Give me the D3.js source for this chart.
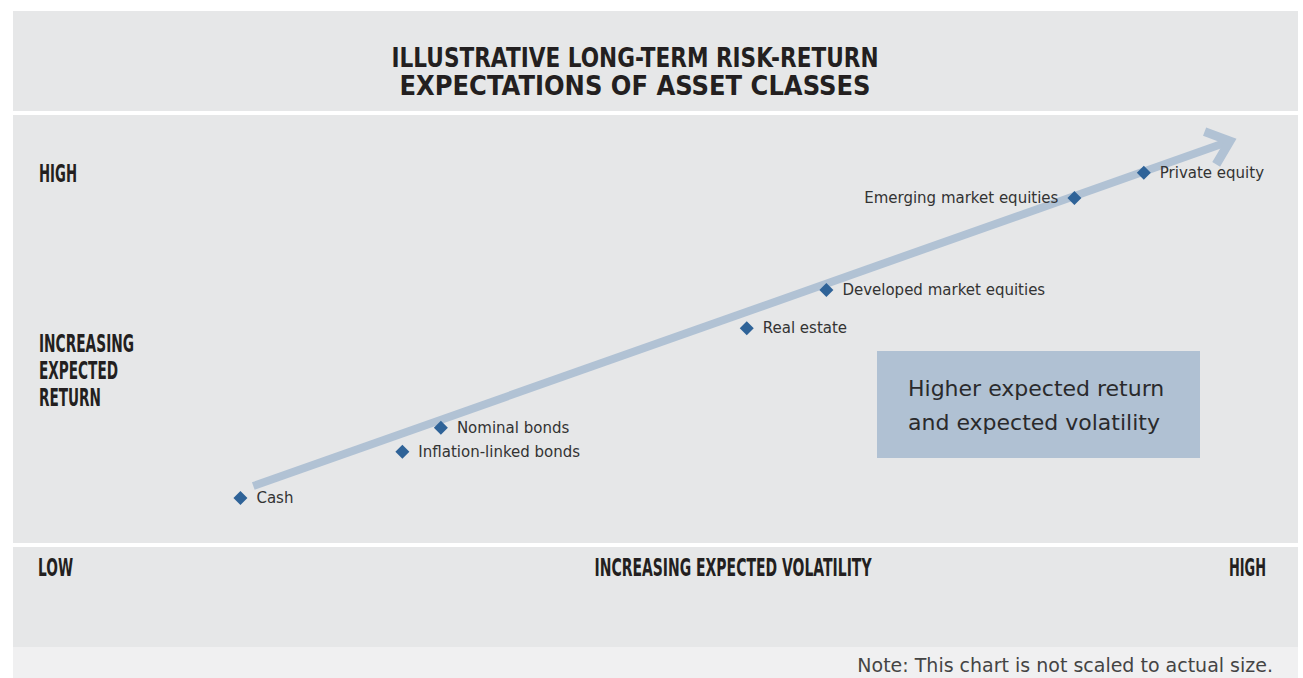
<!DOCTYPE html>
<html><head><meta charset="utf-8">
<script src="https://cdn.jsdelivr.net/npm/d3@7"></script>
<style>
html,body{margin:0;padding:0;background:#fff;}
svg{display:block;}
</style></head>
<body>
<svg id="chart" width="1303" height="678"></svg>
<script>
// ---- data ----
const titleLines = ["ILLUSTRATIVE LONG-TERM RISK-RETURN", "EXPECTATIONS OF ASSET CLASSES"];
const assets = ["Cash", "Inflation-linked bonds", "Nominal bonds", "Real estate", "Developed market equities", "Emerging market equities", "Private equity"];
const volatility = [17.7, 30.3, 33.3, 57.1, 63.3, 82.6, 88.0];
const expectedReturn = [10.5, 21.3, 26.9, 50.2, 59.1, 80.6, 86.5];
const labelSide = ["right", "right", "right", "right", "right", "left", "right"];
const arrowVol = [18.7, 94.7];
const arrowRet = [13.3, 93.9];
const yAxisLabels = ["HIGH", "INCREASING", "EXPECTED", "RETURN"];
const xAxisLabels = ["LOW", "INCREASING EXPECTED VOLATILITY", "HIGH"];
const boxLines = ["Higher expected return", "and expected volatility"];
const note = "Note: This chart is not scaled to actual size.";

// ---- layout ----
const svg = d3.select("#chart");
const panelFill = "#e6e7e8";
const dark = "#231f20";
const condensed = "'DejaVu Sans',sans-serif";
const body = "'DejaVu Sans',sans-serif";
const L = 13, R = 1298;
const plotTop = 115, plotBottom = 543;

// panels
svg.append("rect").attr("x", L).attr("y", 11).attr("width", R - L).attr("height", 100).attr("fill", panelFill);
svg.append("rect").attr("x", L).attr("y", plotTop).attr("width", R - L).attr("height", plotBottom - plotTop).attr("fill", panelFill);
svg.append("rect").attr("x", L).attr("y", 547).attr("width", R - L).attr("height", 100).attr("fill", panelFill);
svg.append("rect").attr("x", L).attr("y", 647).attr("width", R - L).attr("height", 31).attr("fill", "#f0f0f1");

// condensed text helper (fits text to the reference's narrow width)
function cText(sel, txt, xx, yy, w, anchor, size) {
  const t = sel.append("text").attr("y", yy)
    .attr("font-family", condensed).attr("font-weight", "bold").attr("font-size", size)
    .attr("fill", dark).attr("textLength", w).attr("lengthAdjust", "spacingAndGlyphs").text(txt);
  const x0 = anchor === "middle" ? xx - w / 2 : anchor === "end" ? xx - w : xx;
  t.attr("x", x0);
  return t;
}

// title
const titleW = [487, 471];
titleLines.forEach((d, i) => cText(svg, d, 635, 67 + i * 28, titleW[i], "middle", 27));

// scales
const x = d3.scaleLinear().domain([0, 100]).range([L, R]);
const y = d3.scaleLinear().domain([0, 100]).range([plotBottom, plotTop]);

// y-axis labels
const ylW = [38, 95, 79, 62];
cText(svg, yAxisLabels[0], 39, 182, ylW[0], "start", 24);
yAxisLabels.slice(1).forEach((d, i) => cText(svg, d, 39, 352 + i * 27, ylW[i + 1], "start", 24));

// x-axis labels
cText(svg, xAxisLabels[0], 38, 576, 35, "start", 24);
cText(svg, xAxisLabels[1], 733, 576, 277, "middle", 24);
cText(svg, xAxisLabels[2], 1266, 576, 37, "end", 24);

// arrow
const arrowColor = "#b1c2d4";
const x0 = x(arrowVol[0]), y0 = y(arrowRet[0]), x1 = x(arrowVol[1]), y1 = y(arrowRet[1]);
const ang = Math.atan2(y1 - y0, x1 - x0);
const shaftEndX = x1 - 5 * Math.cos(ang), shaftEndY = y1 - 5 * Math.sin(ang);
svg.append("line").attr("x1", x0).attr("y1", y0).attr("x2", shaftEndX).attr("y2", shaftEndY)
  .attr("stroke", arrowColor).attr("stroke-width", 8);
const headLen = 27, headAng = 40 * Math.PI / 180;
const p1 = [x1 - headLen * Math.cos(ang - headAng), y1 - headLen * Math.sin(ang - headAng)];
const p2 = [x1 - headLen * Math.cos(ang + headAng), y1 - headLen * Math.sin(ang + headAng)];
svg.append("path").attr("d", `M${p1[0]},${p1[1]}L${x1},${y1}L${p2[0]},${p2[1]}`)
  .attr("fill", "none").attr("stroke", arrowColor).attr("stroke-width", 9).attr("stroke-linejoin", "miter").attr("stroke-miterlimit", 10);

// box
svg.append("rect").attr("x", 877).attr("y", 351).attr("width", 323).attr("height", 107).attr("fill", "#b0c1d3");
svg.append("g").selectAll("text").data(boxLines).join("text")
  .attr("x", 908).attr("y", (d, i) => 396 + i * 34)
  .attr("font-family", body).attr("font-size", 22).attr("fill", "#2a2a2c").text(d => d);

// points
const pts = assets.map((a, i) => ({ name: a, v: volatility[i], r: expectedReturn[i], side: labelSide[i] }));
const sym = d3.symbol().type(d3.symbolSquare).size(98);
const g = svg.append("g");
g.selectAll("path").data(pts).join("path")
  .attr("d", sym)
  .attr("transform", d => `translate(${x(d.v)},${y(d.r)}) rotate(45)`)
  .attr("fill", "#2f6398");
g.selectAll("text").data(pts).join("text")
  .attr("x", d => d.side === "right" ? x(d.v) + 16 : x(d.v) - 16)
  .attr("y", d => y(d.r) + 5)
  .attr("text-anchor", d => d.side === "right" ? "start" : "end")
  .attr("font-family", body).attr("font-size", 15).attr("fill", "#333")
  .text(d => d.name);

// note
svg.append("text").attr("x", 1273).attr("y", 672).attr("text-anchor", "end")
  .attr("font-family", body).attr("font-size", 19).attr("fill", "#444")
  .text(note);
</script>
</body></html>
